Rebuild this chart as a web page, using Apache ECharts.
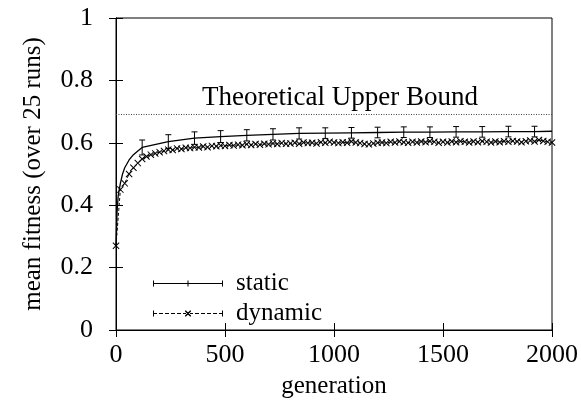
<!DOCTYPE html>
<html>
<head>
<meta charset="utf-8">
<script src="https://cdn.jsdelivr.net/npm/echarts@6/dist/echarts.min.js"></script>
<style>html,body{margin:0;padding:0;background:#fff}#c{width:581px;height:410px}</style>
</head>
<body>
<div id="c"></div>
<script>
// Static series (mean fitness)
var staticGen  = [0, 5, 10, 20, 30, 40, 60, 80, 100, 120, 240, 360, 480, 600, 720, 840, 960, 1080, 1200, 1320, 1440, 1560, 1680, 1800, 1920, 2000];
var staticMean = [0.27, 0.38, 0.43, 0.47, 0.50, 0.52, 0.545, 0.562, 0.574, 0.585, 0.604, 0.615, 0.620, 0.624, 0.627, 0.630, 0.631, 0.632, 0.633, 0.634, 0.634, 0.635, 0.635, 0.636, 0.636, 0.637];
// Error bars on the static series (generation, half-width)
var errGen  = [120, 240, 360, 480, 600, 720, 840, 960, 1080, 1200, 1320, 1440, 1560, 1680, 1800, 1920];
var errHalf = [0.024, 0.022, 0.020, 0.019, 0.018, 0.018, 0.018, 0.017, 0.017, 0.017, 0.017, 0.017, 0.017, 0.017, 0.017, 0.017];
// Dynamic series
var dynGen = [0,20,40,60,80,100,120,140,160,180,200,220,240,260,280,300,320,340,360,380,400,420,440,460,480,500,520,540,560,580,600,620,640,660,680,700,720,740,760,780,800,820,840,860,880,900,920,940,960,980,1000,1020,1040,1060,1080,1100,1120,1140,1160,1180,1200,1220,1240,1260,1280,1300,1320,1340,1360,1380,1400,1420,1440,1460,1480,1500,1520,1540,1560,1580,1600,1620,1640,1660,1680,1700,1720,1740,1760,1780,1800,1820,1840,1860,1880,1900,1920,1940,1960,1980,2000];
var dynMean = [0.27,0.45,0.47,0.50,0.52,0.535,0.548,0.556,0.562,0.566,0.570,0.574,0.578,0.577,0.582,0.580,0.584,0.583,0.586,0.585,0.588,0.586,0.590,0.589,0.591,0.590,0.593,0.591,0.594,0.592,0.595,0.593,0.596,0.594,0.597,0.595,0.598,0.596,0.599,0.597,0.598,0.600,0.597,0.601,0.599,0.600,0.598,0.602,0.600,0.603,0.601,0.599,0.602,0.600,0.604,0.601,0.599,0.596,0.595,0.598,0.600,0.601,0.599,0.603,0.601,0.604,0.602,0.600,0.603,0.601,0.604,0.602,0.605,0.603,0.600,0.603,0.601,0.604,0.602,0.605,0.603,0.601,0.604,0.602,0.605,0.603,0.601,0.604,0.602,0.605,0.603,0.606,0.604,0.602,0.605,0.607,0.604,0.609,0.606,0.603,0.601];
var upperBound = 0.693;

var FONT = 'Liberation Serif';
var staticData = staticGen.map(function (g, i) { return [g, staticMean[i]]; });
var dynData = dynGen.map(function (g, i) { return [g, dynMean[i]]; });
var errData = errGen.map(function (g, i) {
  var m = staticMean[staticGen.indexOf(g)];
  return [g, m - errHalf[i], m + errHalf[i]];
});
var xSym = 'path://M0,1 L1,0 L10,9 L9,10 Z M9,0 L10,1 L1,10 L0,9 Z';
// legend icons (70 x 6 boxes)
var staticIcon = 'path://M0,2.5 H70 V3.5 H0 Z M0,0 H1 V6 H0 Z M69,0 H70 V6 H69 Z M34.5,0 H35.5 V6 H34.5 Z';
var dynIcon = 'path://M0,0 H1 V6 H0 Z M69,0 H70 V6 H69 Z' +
  ' M0,2.5 H4 V3.5 H0 Z M6,2.5 H10 V3.5 H6 Z M12,2.5 H16 V3.5 H12 Z M18,2.5 H22 V3.5 H18 Z M24,2.5 H28 V3.5 H24 Z M30,2.5 H33 V3.5 H30 Z' +
  ' M37,2.5 H40 V3.5 H37 Z M42,2.5 H46 V3.5 H42 Z M48,2.5 H52 V3.5 H48 Z M54,2.5 H58 V3.5 H54 Z M60,2.5 H64 V3.5 H60 Z M66,2.5 H70 V3.5 H66 Z' +
  ' M32,0 L33,0 L38,5 L38,6 L37,6 L32,1 Z M37,0 L38,0 L38,1 L33,6 L32,6 L32,5 Z';

var chart = echarts.init(document.getElementById('c'), null, {renderer: 'canvas'});
var axisCommon = {
  axisLine: {lineStyle: {color: '#000', width: 1}},
  axisTick: {inside: true, length: 7, lineStyle: {color: '#000'}},
  splitLine: {show: false}
};
chart.setOption({
  backgroundColor: '#fff',
  animation: false,
  grid: {left: 116, right: 29, top: 18, bottom: 80, show: true, borderColor: '#000', borderWidth: 1},
  legend: {
    left: 148, top: 266, orient: 'vertical', itemWidth: 70, itemHeight: 6, itemGap: 5,
    symbolKeepAspect: false,
    textStyle: {fontFamily: FONT, fontSize: 25, color: '#000', padding: [0, 0, 0, 8]},
    data: [{name: 'static', icon: staticIcon}, {name: 'dynamic', icon: dynIcon}]
  },
  xAxis: [
    Object.assign({type: 'value', min: 0, max: 2000, interval: 500, position: 'bottom',
      name: 'generation', nameLocation: 'middle', nameGap: 44,
      nameTextStyle: {fontFamily: FONT, fontSize: 25, color: '#000'},
      axisLabel: {fontFamily: FONT, fontSize: 26, color: '#000', margin: 12,
        formatter: function (v) { return String(v); }}}, axisCommon),
    Object.assign({type: 'value', min: 0, max: 2000, interval: 500, position: 'top',
      axisLabel: {show: false}}, axisCommon)
  ],
  yAxis: [
    Object.assign({type: 'value', min: 0, max: 1, interval: 0.2, position: 'left',
      name: 'mean fitness (over 25 runs)', nameLocation: 'middle', nameGap: 70,
      nameTextStyle: {fontFamily: FONT, fontSize: 25, color: '#000'},
      axisLabel: {fontFamily: FONT, fontSize: 26, color: '#000', margin: 23}}, axisCommon),
    Object.assign({type: 'value', min: 0, max: 1, interval: 0.2, position: 'right',
      axisLabel: {show: false}}, axisCommon)
  ],
  series: [
    {
      name: 'static', type: 'line', data: staticData, symbol: 'none', smooth: false,
      lineStyle: {color: '#000', width: 1.3}, itemStyle: {color: '#000'}, z: 3,
      markLine: {
        silent: true, symbol: 'none',
        lineStyle: {color: '#444', type: [1, 1.5], width: 1},
        label: {show: true, position: 'insideMiddleTop', formatter: 'Theoretical Upper Bound',
          fontFamily: FONT, fontSize: 27, color: '#000', distance: 3, offset: [6, 0]},
        data: [{yAxis: upperBound}]
      }
    },
    {
      name: 'static-err', type: 'custom', data: errData, z: 4,
      renderItem: function (params, api) {
        var x = api.value(0);
        var lo = api.coord([x, api.value(1)]);
        var hi = api.coord([x, api.value(2)]);
        var w = 3;
        return {type: 'group', children: [
          {type: 'line', shape: {x1: lo[0], y1: lo[1], x2: hi[0], y2: hi[1]}, style: {stroke: '#000', lineWidth: 1}},
          {type: 'line', shape: {x1: lo[0] - w, y1: lo[1], x2: lo[0] + w, y2: lo[1]}, style: {stroke: '#000', lineWidth: 1}},
          {type: 'line', shape: {x1: hi[0] - w, y1: hi[1], x2: hi[0] + w, y2: hi[1]}, style: {stroke: '#000', lineWidth: 1}}
        ]};
      }
    },
    {
      name: 'dynamic', type: 'line', data: dynData, symbol: xSym, symbolSize: 7,
      lineStyle: {color: '#000', width: 1, type: [3, 2]},
      itemStyle: {color: '#000'}, z: 2
    }
  ]
});
</script>
</body>
</html>
